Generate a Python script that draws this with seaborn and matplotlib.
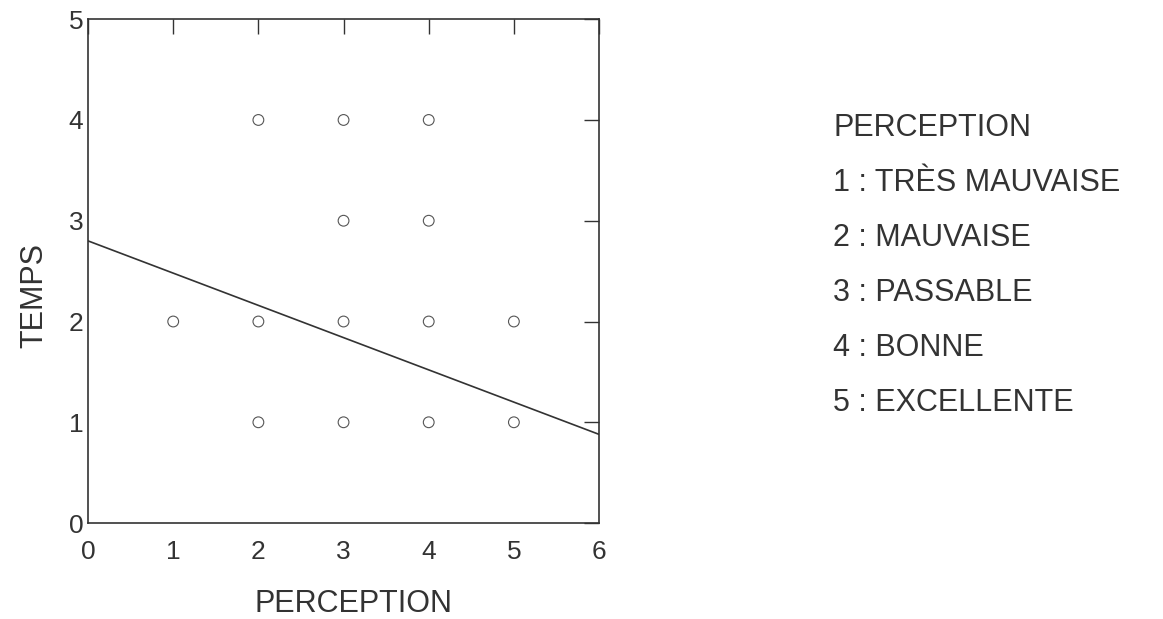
import numpy as np
import pandas as pd
import seaborn as sns
import matplotlib.pyplot as plt

# observations (perception score, temps)
perception = [1, 2, 2, 2, 3, 3, 3, 3, 4, 4, 4, 4, 5, 5]
temps = [2, 1, 2, 4, 1, 2, 3, 4, 1, 2, 3, 4, 1, 2]

fit_x = [0, 6]
fit_y = [2.8, 0.88]

legend_title = "PERCEPTION"
legend_items = ["1 : TRÈS MAUVAISE", "2 : MAUVAISE", "3 : PASSABLE", "4 : BONNE", "5 : EXCELLENTE"]

sns.set_style("white")
plt.rcParams['font.family'] = ['Liberation Sans', 'DejaVu Sans']

df = pd.DataFrame({"perception": perception, "temps": temps})
fit = pd.DataFrame({"x": fit_x, "y": fit_y})

fig = plt.figure(figsize=(11.63, 6.19), dpi=100)
ax = fig.add_axes([0.0757, 0.155, 0.4394, 0.814])

sns.scatterplot(data=df, x="perception", y="temps", ax=ax, s=60, marker="o",
                facecolor="none", edgecolor="#555555", linewidth=0.8)
sns.lineplot(data=fit, x="x", y="y", ax=ax, color="#333333", linewidth=1.2)

ax.set_xlim(0, 6)
ax.set_ylim(0, 5)
ax.set_xticks(range(0, 7))
ax.set_yticks(range(0, 6))
ax.tick_params(direction="in", length=10.5, width=1, top=True, right=True,
               labelsize=19, colors="#333333")
ax.tick_params(axis="x", pad=12)
ax.tick_params(axis="y", pad=3.5)
for sp in ax.spines.values():
    sp.set_color("#333333")
    sp.set_linewidth(1.2)

ax.set_xlabel("PERCEPTION", fontsize=22, color="#333333", va="baseline")
ax.set_ylabel("TEMPS", fontsize=22, color="#333333", va="baseline")
ax.xaxis.set_label_coords(0.52, -0.1766)
ax.yaxis.set_label_coords(-0.09, 0.451)

# text key on the right
fig.text(833 / 1163, 1 - 136 / 619, legend_title, fontsize=22, color="#333333", va="baseline")
for i, item in enumerate(legend_items):
    fig.text(833 / 1163, 1 - (191 + 55 * i) / 619, item, fontsize=22, color="#333333", va="baseline")

fig.savefig("out.png", dpi=100)
